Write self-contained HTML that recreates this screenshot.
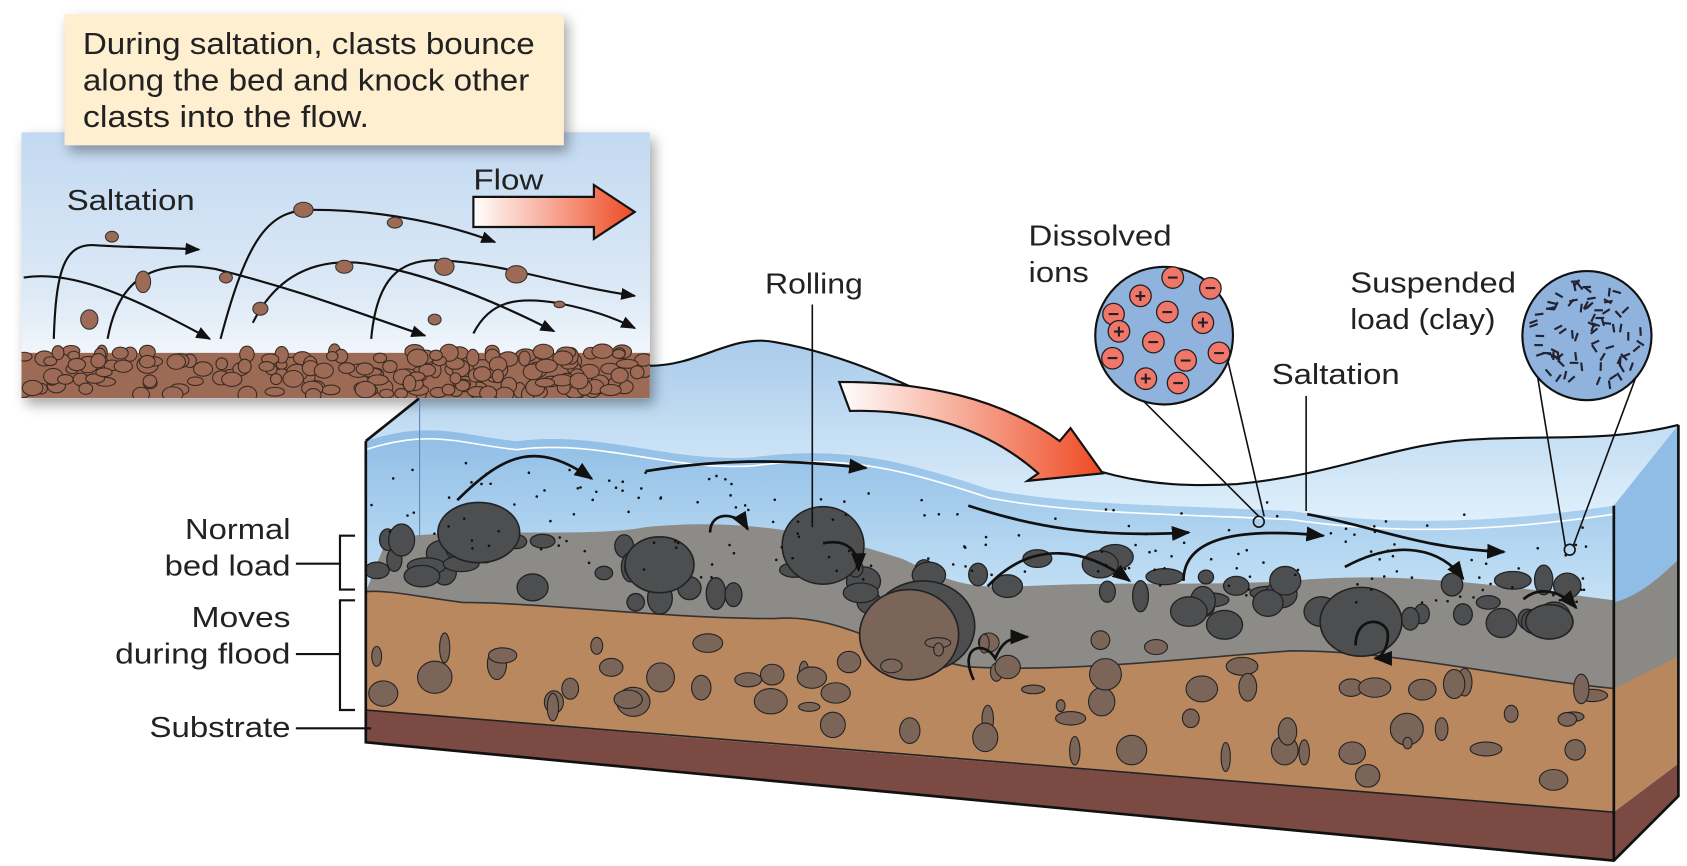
<!DOCTYPE html>
<html><head><meta charset="utf-8"><style>
html,body{margin:0;padding:0;background:#fff;overflow:hidden}
svg{display:block}
text{font-family:"Liberation Sans",sans-serif;fill:#222}
</style></head><body>
<svg id="s" width="1687" height="866" viewBox="0 0 1568 805" preserveAspectRatio="none" xmlns="http://www.w3.org/2000/svg">
<defs>
<linearGradient id="wtop" x1="0" y1="0" x2="0" y2="1"><stop offset="0" stop-color="#a9cbeb"/><stop offset="1" stop-color="#dff0fb"/></linearGradient>
<linearGradient id="wfront" x1="0" y1="0" x2="0" y2="1"><stop offset="0" stop-color="#8fbde6"/><stop offset="1" stop-color="#c5e2f6"/></linearGradient>
<linearGradient id="inset" x1="0" y1="0" x2="0" y2="1"><stop offset="0" stop-color="#c3d9f1"/><stop offset="0.6" stop-color="#dce9f6"/><stop offset="1" stop-color="#ffffff"/></linearGradient>
<linearGradient id="arr" x1="0" y1="0" x2="1" y2="0"><stop offset="0" stop-color="#fff"/><stop offset="1" stop-color="#ee4a22"/></linearGradient>
<marker id="ah" viewBox="0 0 10 10" refX="9" refY="5" markerWidth="7" markerHeight="7" orient="auto"><path d="M0,1 L10,5 L0,9 Z" fill="#111"/></marker>
<filter id="sh" x="-10%" y="-10%" width="130%" height="130%"><feDropShadow dx="4" dy="6" stdDeviation="6" flood-color="#000" flood-opacity="0.35"/></filter>
<clipPath id="ic"><rect x="20" y="300" width="584" height="70"/></clipPath>
<clipPath id="fc"><path d="M340,300 L1500,300 L1500,800 L340,690 Z"/></clipPath>
</defs>

<path d="M604,340 C650,340 680,310 720,318 C790,330 850,360 930,400 C1010,440 1060,455 1150,450 C1250,440 1300,410 1380,408 C1450,405 1500,410 1560,395 L1560,420 L1500,470 C1400,485 1300,490 1200,475 C1100,470 1000,470 920,455 C830,425 780,415 700,425 C620,430 560,400 480,410 C430,405 400,390 340,410 L390,370 Z" fill="url(#wtop)"/>
<path d="M604,340 C650,340 680,310 720,318 C790,330 850,360 930,400 C1010,440 1060,455 1150,450 C1250,440 1300,410 1380,408 C1450,405 1500,410 1560,395" fill="none" stroke="#111" stroke-width="2"/>
<path d="M1500,470 L1560,395 L1560,740 L1500,800 Z" fill="#8fbde6"/>
<path d="M1500,560 C1520,555 1540,540 1560,520 L1560,660 L1500,640 Z" fill="#8b8986"/>
<path d="M1500,640 L1560,610 L1560,710 L1500,755 Z" fill="#b8875e"/>
<path d="M1500,755 L1560,710 L1560,740 L1500,800 Z" fill="#7b4a42"/>
<path d="M340,410 C400,390 430,405 480,410 C560,400 620,430 700,425 C780,415 830,425 920,455 C1000,470 1100,470 1200,475 C1300,490 1400,485 1500,470 L1500,560 L340,550 Z" fill="url(#wfront)"/>
<path d="M340,418 C400,398 430,413 480,418 C560,408 620,438 700,433 C780,423 830,433 920,463 C1000,478 1100,478 1200,483 C1300,498 1400,493 1500,478" fill="none" stroke="#fff" stroke-width="1.5"/>
<path d="M340,550 L360,500 C450,490 550,500 600,490 C700,480 780,500 840,520 C880,540 900,548 950,545 C1050,540 1100,545 1200,540 C1300,530 1400,545 1500,558 L1500,640 C1400,630 1300,605 1200,605 C1100,612 1000,625 900,620 C820,605 780,570 720,575 C620,575 500,560 430,560 C390,555 360,548 340,550 Z" fill="#8d8b87"/>
<path d="M340,550 C360,548 390,555 430,560 C500,560 620,575 720,575 C780,570 820,605 900,620 C1000,625 1100,612 1200,605 C1300,605 1400,630 1500,640 L1500,755 C1200,730 800,700 340,660 Z" fill="#b9885f"/>
<path d="M340,550 C360,548 390,555 430,560 C500,560 620,575 720,575 C780,570 820,605 900,620 C1000,625 1100,612 1200,605 C1300,605 1400,630 1500,640" fill="none" stroke="#333" stroke-width="1.5"/>
<path d="M340,660 C800,700 1200,730 1500,755 L1500,800 L340,690 Z" fill="#7b4a42"/>
<path d="M340,660 C800,700 1200,730 1500,755" fill="none" stroke="#222" stroke-width="1.5"/>
<g id="rocks" clip-path="url(#fc)"></g>
<path d="M340,410 L390,370 M340,410 L340,690 L1500,800 L1560,740 L1560,395 M1500,470 L1500,800" fill="none" stroke="#111" stroke-width="2.5"/>

<g fill="none" stroke="#111" stroke-width="2.5" marker-end="url(#ah)">
<path d="M425,465 C470,420 500,410 550,445"/>
<path d="M600,438 C680,425 740,428 805,435"/>
<path d="M900,470 C960,490 1020,500 1105,495"/>
<path d="M1100,540 C1100,500 1150,490 1230,498"/>
<path d="M1215,478 C1280,490 1320,510 1398,513"/>
<path d="M918,545 C960,500 1010,510 1050,540"/>
<path d="M1250,527 C1300,500 1340,510 1360,538"/>
<path d="M1416,557 C1430,545 1450,548 1465,565"/>
<path d="M660,495 C660,475 685,475 695,492"/>
<path d="M765,505 C790,500 798,515 798,530"/>
<path d="M1260,600 C1260,570 1290,575 1290,590 C1290,605 1282,612 1278,612"/>
<path d="M905,632 C890,600 915,595 925,612 C930,600 935,592 955,592"/>
</g>
<path d="M780,355 L790,382 C860,380 920,400 965,440 L955,447 L1025,440 L995,398 L985,410 C930,370 860,355 780,355 Z" fill="url(#arr)" stroke="#111" stroke-width="2"/>

<path d="M1020,330 L1170,480 M1140,330 L1175,480 M1425,325 L1455,508 M1530,325 L1462,508" stroke="#111" stroke-width="1.5" fill="none"/>
<circle cx="1170" cy="485" r="5" fill="none" stroke="#111" stroke-width="1.5"/>
<circle cx="1459" cy="511" r="5" fill="none" stroke="#111" stroke-width="1.5"/>
<circle cx="1082" cy="312" r="64" fill="#8fb3dd" stroke="#111" stroke-width="2"/>
<circle cx="1475" cy="312" r="60" fill="#8fb3dd" stroke="#111" stroke-width="2"/>
<g id="ions"></g>
<g id="clay"></g>

<g font-size="27" lengthAdjust="spacingAndGlyphs">
<text x="956" y="228" textLength="133" lengthAdjust="spacingAndGlyphs">Dissolved</text>
<text x="956" y="262" textLength="56" lengthAdjust="spacingAndGlyphs">ions</text>
<text x="711" y="273" textLength="91" lengthAdjust="spacingAndGlyphs">Rolling</text>
<text x="1255" y="272" textLength="154" lengthAdjust="spacingAndGlyphs">Suspended</text>
<text x="1255" y="306" textLength="135" lengthAdjust="spacingAndGlyphs">load (clay)</text>
<text x="1182" y="357" textLength="119" lengthAdjust="spacingAndGlyphs">Saltation</text>
<text x="172" y="501" textLength="98" lengthAdjust="spacingAndGlyphs">Normal</text>
<text x="153" y="535" textLength="117" lengthAdjust="spacingAndGlyphs">bed load</text>
<text x="178" y="583" textLength="92" lengthAdjust="spacingAndGlyphs">Moves</text>
<text x="107" y="617" textLength="163" lengthAdjust="spacingAndGlyphs">during flood</text>
<text x="139" y="685" textLength="131" lengthAdjust="spacingAndGlyphs">Substrate</text>
</g>
<line x1="755" y1="283" x2="755" y2="490" stroke="#111" stroke-width="1.5"/>
<line x1="1214" y1="368" x2="1214" y2="475" stroke="#111" stroke-width="1.5"/>
<g stroke="#111" stroke-width="2" fill="none">
<path d="M275,524 H316 M330,498 H316 V548 H330"/>
<path d="M275,608 H316 M330,558 H316 V660 H330"/>
<path d="M275,677 H345"/>
</g>

<g filter="url(#sh)"><rect x="20" y="123" width="584" height="247" fill="url(#inset)"/></g>
<line x1="390" y1="370" x2="390" y2="500" stroke="#5a86b5" stroke-width="1"/>
<rect x="20" y="328" width="584" height="42" fill="#9c6a55"/>
<g id="irocks" clip-path="url(#ic)"></g>
<g fill="none" stroke="#111" stroke-width="2" marker-end="url(#ah)">
<path d="M50,315 C52,250 60,225 90,228 C120,230 150,230 185,232"/>
<path d="M22,258 C70,250 130,280 195,315"/>
<path d="M100,315 C110,260 140,240 200,250 C280,270 330,290 395,312"/>
<path d="M205,315 C230,220 250,195 290,195 C360,195 420,210 460,225"/>
<path d="M235,300 C260,250 300,240 340,245 C400,255 460,280 515,308"/>
<path d="M345,315 C350,260 370,240 410,242 C470,245 520,265 590,275"/>
<path d="M440,310 C455,280 480,275 520,282 C550,288 570,295 590,305"/>
</g>
<g fill="#9c6a55" stroke="#333" stroke-width="1">
<ellipse cx="282" cy="195" rx="9" ry="7"/><ellipse cx="367" cy="207" rx="7" ry="5"/><ellipse cx="104" cy="220" rx="6" ry="5"/>
<ellipse cx="133" cy="262" rx="7" ry="10"/><ellipse cx="210" cy="258" rx="6" ry="5"/><ellipse cx="320" cy="248" rx="8" ry="6"/>
<ellipse cx="413" cy="248" rx="9" ry="8"/><ellipse cx="480" cy="255" rx="10" ry="8"/><ellipse cx="83" cy="297" rx="8" ry="9"/>
<ellipse cx="242" cy="287" rx="7" ry="6"/><ellipse cx="404" cy="297" rx="6" ry="5"/><ellipse cx="520" cy="283" rx="5" ry="3"/>
</g>
<text x="62" y="195" font-size="27" textLength="119" lengthAdjust="spacingAndGlyphs">Saltation</text>
<text x="440" y="176" font-size="27" textLength="65" lengthAdjust="spacingAndGlyphs">Flow</text>
<path d="M440,183 H552 V172 L590,197 L552,222 V211 H440 Z" fill="url(#arr)" stroke="#111" stroke-width="2"/>
<g filter="url(#sh)"><rect x="60" y="13" width="464" height="122" fill="#fdefd0"/></g>
<g font-size="28"><text x="77" y="50" textLength="420" lengthAdjust="spacingAndGlyphs">During saltation, clasts bounce</text><text x="77" y="84" textLength="415" lengthAdjust="spacingAndGlyphs">along the bed and knock other</text><text x="77" y="118" textLength="266" lengthAdjust="spacingAndGlyphs">clasts into the flow.</text></g>
</svg>
<script>
(function(){
var seed=7;function r(){seed=(seed*16807)%2147483647;return (seed-1)/2147483646;}
var NS="http://www.w3.org/2000/svg";
function el(g,t,a){var e=document.createElementNS(NS,t);for(var k in a)e.setAttribute(k,a[k]);g.appendChild(e);return e;}
var ir=document.getElementById('irocks');
for(var i=0;i<190;i++){el(ir,'ellipse',{cx:22+r()*580,cy:326+r()*42,rx:5+r()*5,ry:4+r()*4,fill:'#9c6a55',stroke:'#3a2a22','stroke-width':1});}
var g=document.getElementById('rocks');
function by(x){return 500+(x-340)*0.04+Math.sin(x/90)*8;}
function bb(x){return 660+(x-340)*0.082;}
for(var i=0;i<70;i++){var x=350+r()*1140;var y=by(x)-5+r()*55;el(g,'ellipse',{cx:x,cy:y,rx:7+r()*11,ry:6+r()*9,fill:'#4d4e50',stroke:'#222','stroke-width':1.2});}
[[445,495,38,28],[613,525,32,26],[765,507,38,36],[1265,578,38,32],[1440,578,22,16]].forEach(function(a){el(g,'ellipse',{cx:a[0],cy:a[1],rx:a[2],ry:a[3],fill:'#4d4e50',stroke:'#222','stroke-width':1.5});});
el(g,'ellipse',{cx:858,cy:582,rx:48,ry:42,fill:'#4d4e50',stroke:'#222','stroke-width':1.5});
el(g,'ellipse',{cx:845,cy:590,rx:46,ry:42,fill:'#7b6558',stroke:'#222','stroke-width':1.5});
for(var i=0;i<70;i++){var x=350+r()*1140;var y0=by(x)+75,y1=bb(x)-14;var y=y0+r()*(y1-y0);el(g,'ellipse',{cx:x,cy:y,rx:4+r()*12,ry:4+r()*11,fill:'#7b6558',stroke:'#222','stroke-width':1});}
for(var i=0;i<180;i++){var x=345+r()*1150;var tp=425+(x-340)*0.05;var y=tp+r()*(by(x)-tp+20);el(g,'circle',{cx:x,cy:y,r:1.2,fill:'#111'});}
var io=document.getElementById('ions');
[[1090,258,'-'],[1060,275,'+'],[1125,268,'-'],[1035,292,'-'],[1085,290,'-'],[1118,300,'+'],[1040,308,'+'],[1072,318,'-'],[1133,328,'-'],[1034,333,'-'],[1102,335,'-'],[1065,352,'+'],[1095,356,'-']].forEach(function(a){el(io,'circle',{cx:a[0],cy:a[1],r:10,fill:'#f0766a',stroke:'#222','stroke-width':1.2});var t=el(io,'text',{x:a[0],y:a[1]+6,'font-size':18,'text-anchor':'middle','font-weight':'bold'});t.textContent=a[2]=='-'?'−':'+';});
var cl=document.getElementById('clay');
for(var i=0;i<80;i++){var a=r()*6.28,d=Math.sqrt(r())*52;var x=1475+Math.cos(a)*d,y=312+Math.sin(a)*d;var an=r()*180;el(cl,'rect',{x:x-4,y:y-1,width:8,height:2,fill:'#223',transform:'rotate('+an+' '+x+' '+y+')'});}
})();
</script>
</body></html>
